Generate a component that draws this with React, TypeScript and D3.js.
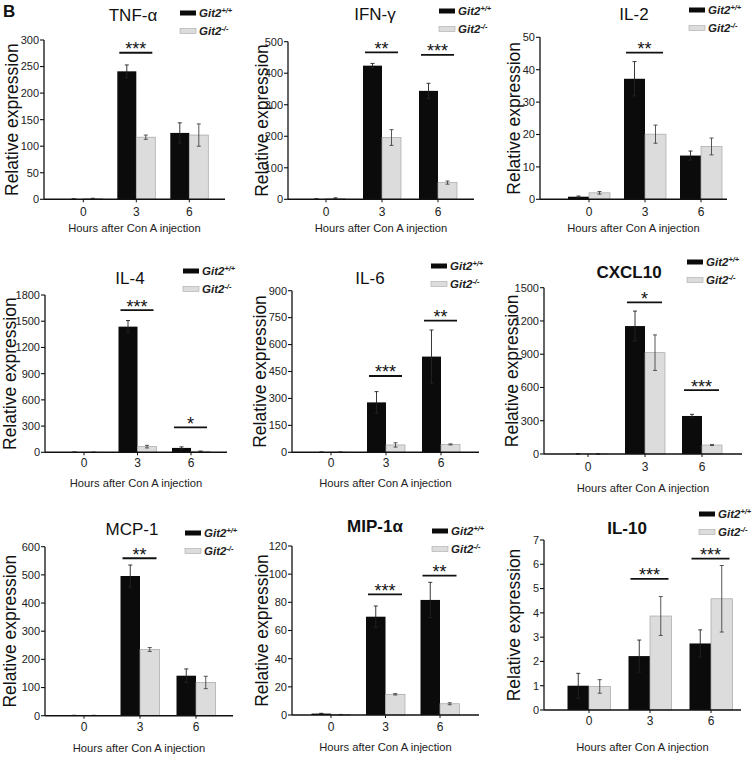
import React from "react";
import * as d3 from "d3";

const categories = ["0", "3", "6"];
const groups = ["wt", "ko"];

// TNF-α
const tnfWT = [0.5, 241, 125];
const tnfWTErr = [0.3, 12, 19];
const tnfKO = [1.5, 117, 121];
const tnfKOErr = [0.5, 4, 21];
const tnfTicks = [0, 50, 100, 150, 200, 250, 300];
const tnfSig = [{ cat: "3", label: "***", y: 276 }];

// IFN-γ
const ifnWT = [1, 424, 344];
const ifnWTErr = [0.5, 7, 24];
const ifnKO = [3, 196, 53];
const ifnKOErr = [2, 25, 5];
const ifnTicks = [0, 100, 200, 300, 400, 500];
const ifnSig = [
  { cat: "3", label: "**", y: 466 },
  { cat: "6", label: "***", y: 458 },
];

// IL-2
const il2WT = [0.8, 37.2, 13.5];
const il2WTErr = [0.2, 5.3, 1.4];
const il2KO = [2.0, 20.1, 16.3];
const il2KOErr = [0.4, 2.8, 2.6];
const il2Ticks = [0, 10, 20, 30, 40, 50];
const il2Sig = [{ cat: "3", label: "**", y: 45.3 }];

// IL-4
const il4WT = [2, 1438, 50];
const il4WTErr = [1, 70, 12];
const il4KO = [1, 65, 12];
const il4KOErr = [0.5, 15, 3];
const il4Ticks = [0, 300, 600, 900, 1200, 1500, 1800];
const il4Sig = [
  { cat: "3", label: "***", y: 1628 },
  { cat: "6", label: "*", y: 286 },
];

// IL-6
const il6WT = [1, 278, 533];
const il6WTErr = [0.5, 60, 148];
const il6KO = [1, 41, 44];
const il6KOErr = [0.5, 12, 3];
const il6Ticks = [0, 150, 300, 450, 600, 750, 900];
const il6Sig = [
  { cat: "3", label: "***", y: 425 },
  { cat: "6", label: "**", y: 733 },
];

// CXCL10
const cxclWT = [1, 1154, 343];
const cxclWTErr = [0.5, 135, 15];
const cxclKO = [1, 914, 81];
const cxclKOErr = [0.5, 160, 5];
const cxclTicks = [0, 300, 600, 900, 1200, 1500];
const cxclSig = [
  { cat: "3", label: "*", y: 1368 },
  { cat: "6", label: "***", y: 577 },
];

// MCP-1
const mcpWT = [1, 496, 142];
const mcpWTErr = [0.5, 39, 24];
const mcpKO = [1, 235, 118];
const mcpKOErr = [0.5, 7, 22];
const mcpTicks = [0, 100, 200, 300, 400, 500, 600];
const mcpSig = [{ cat: "3", label: "**", y: 559 }];

// MIP-1α
const mipWT = [1, 69.8, 81.7];
const mipWTErr = [0.2, 7.6, 12.5];
const mipKO = [0.3, 14.7, 8];
const mipKOErr = [0.1, 0.5, 0.7];
const mipTicks = [0, 20, 40, 60, 80, 100, 120];
const mipSig = [
  { cat: "3", label: "***", y: 85.7 },
  { cat: "6", label: "**", y: 98.9 },
];

// IL-10
const il10WT = [1.0, 2.22, 2.74];
const il10WTErr = [0.51, 0.66, 0.56];
const il10KO = [0.97, 3.87, 4.58];
const il10KOErr = [0.28, 0.8, 1.37];
const il10Ticks = [0, 1, 2, 3, 4, 5, 6, 7];
const il10Sig = [
  { cat: "3", label: "***", y: 5.4 },
  { cat: "6", label: "***", y: 6.23 },
];

const panelData = [
  { title: "TNF-α", bold: false, wt: tnfWT, wtErr: tnfWTErr, ko: tnfKO, koErr: tnfKOErr, ticks: tnfTicks, sig: tnfSig },
  { title: "IFN-γ", bold: false, wt: ifnWT, wtErr: ifnWTErr, ko: ifnKO, koErr: ifnKOErr, ticks: ifnTicks, sig: ifnSig },
  { title: "IL-2", bold: false, wt: il2WT, wtErr: il2WTErr, ko: il2KO, koErr: il2KOErr, ticks: il2Ticks, sig: il2Sig },
  { title: "IL-4", bold: false, wt: il4WT, wtErr: il4WTErr, ko: il4KO, koErr: il4KOErr, ticks: il4Ticks, sig: il4Sig },
  { title: "IL-6", bold: false, wt: il6WT, wtErr: il6WTErr, ko: il6KO, koErr: il6KOErr, ticks: il6Ticks, sig: il6Sig },
  { title: "CXCL10", bold: true, wt: cxclWT, wtErr: cxclWTErr, ko: cxclKO, koErr: cxclKOErr, ticks: cxclTicks, sig: cxclSig },
  { title: "MCP-1", bold: false, wt: mcpWT, wtErr: mcpWTErr, ko: mcpKO, koErr: mcpKOErr, ticks: mcpTicks, sig: mcpSig },
  { title: "MIP-1α", bold: true, wt: mipWT, wtErr: mipWTErr, ko: mipKO, koErr: mipKOErr, ticks: mipTicks, sig: mipSig },
  { title: "IL-10", bold: true, wt: il10WT, wtErr: il10WTErr, ko: il10KO, koErr: il10KOErr, ticks: il10Ticks, sig: il10Sig },
];

// layout (pixels)
const layouts = [
  { ax: 44, y0: 199.3, yTop: 40, xEnd: 225, c0: 83.3, step: 53, bw: 19, titleX: 133, titleY: 21, legX: 180, legY1: 13, legY2: 31, ylabX: 12, tickY: 216, xTitleY: 232 },
  { ax: 288, y0: 199.3, yTop: 41.7, xEnd: 474, c0: 326, step: 56, bw: 19, titleX: 375, titleY: 20, legX: 439, legY1: 11, legY2: 29, ylabX: 262, tickY: 216, xTitleY: 232 },
  { ax: 540, y0: 199.3, yTop: 37.3, xEnd: 727, c0: 589, step: 56, bw: 21, titleX: 634, titleY: 20, legX: 689, legY1: 10, legY2: 28, ylabX: 514, tickY: 216, xTitleY: 232 },
  { ax: 45, y0: 452.3, yTop: 295, xEnd: 227, c0: 84, step: 53.5, bw: 19, titleX: 130, titleY: 284, legX: 183, legY1: 271, legY2: 289, ylabX: 10, tickY: 467, xTitleY: 487 },
  { ax: 292, y0: 452.3, yTop: 290.7, xEnd: 479, c0: 331, step: 55, bw: 19, titleX: 370, titleY: 284, legX: 431, legY1: 266, legY2: 284, ylabX: 260, tickY: 467, xTitleY: 487 },
  { ax: 544, y0: 454, yTop: 287.7, xEnd: 742, c0: 588, step: 57, bw: 20, titleX: 629, titleY: 278, legX: 687, legY1: 262, legY2: 280, ylabX: 512, tickY: 471, xTitleY: 492 },
  { ax: 45, y0: 715.7, yTop: 546.7, xEnd: 233, c0: 84, step: 56, bw: 19.5, titleX: 132, titleY: 535, legX: 185, legY1: 533, legY2: 551, ylabX: 10, tickY: 731, xTitleY: 752 },
  { ax: 292, y0: 715, yTop: 546, xEnd: 479, c0: 331, step: 54.5, bw: 19.5, titleX: 375, titleY: 532, legX: 432, legY1: 531, legY2: 549, ylabX: 262, tickY: 731, xTitleY: 751 },
  { ax: 544, y0: 710, yTop: 540, xEnd: 741, c0: 589, step: 61, bw: 21.5, titleX: 627, titleY: 534, legX: 699, legY1: 514, legY2: 532, ylabX: 514, tickY: 725, xTitleY: 751 },
];

const FONT = "Arial, 'Liberation Sans', sans-serif";
const BLACK = "#0b0b0b";
const GRAY = "#dcdcdc";

function Panel({ d, L }: { d: any; L: any }) {
  const maxV = d.ticks[d.ticks.length - 1];
  const y = d3.scaleLinear().domain([0, maxV]).range([L.y0, L.yTop]);
  const p = 1 - (2 * L.bw) / L.step;
  const x0 = d3
    .scaleBand()
    .domain(categories)
    .range([L.c0 - L.step / 2, L.c0 + 2.5 * L.step])
    .paddingInner(p)
    .paddingOuter(p / 2);
  const x1 = d3.scaleBand().domain(groups).range([0, x0.bandwidth()]);

  const bars: any[] = [];
  categories.forEach((c, i) => {
    groups.forEach((g) => {
      const v = g === "wt" ? d.wt[i] : d.ko[i];
      const e = g === "wt" ? d.wtErr[i] : d.koErr[i];
      bars.push({ c, g, v, e, x: (x0(c) as number) + (x1(g) as number), w: x1.bandwidth() });
    });
  });

  return (
    <g fontFamily={FONT}>
      <text x={L.titleX} y={L.titleY} textAnchor="middle" fontSize={17} fontWeight={d.bold ? "bold" : "normal"} fill="#111">
        {d.title}
      </text>
      <rect x={L.legX} y={L.legY1 - 2.5} width={16} height={5} fill={BLACK} />
      <text x={L.legX + 19} y={L.legY1 + 4} fontSize={11.5} fontWeight="bold" fontStyle="italic" fill="#222">
        Git2<tspan fontSize={7.5} dy={-4}>+/+</tspan>
      </text>
      <rect x={L.legX} y={L.legY2 - 2.5} width={16} height={5} fill={GRAY} stroke="#a8a8a8" strokeWidth={0.6} />
      <text x={L.legX + 19} y={L.legY2 + 4} fontSize={11.5} fontWeight="bold" fontStyle="italic" fill="#222">
        Git2<tspan fontSize={7.5} dy={-4}>-/-</tspan>
      </text>
      <text
        transform={`translate(${L.ylabX},${(L.y0 + L.yTop) / 2}) rotate(-90)`}
        textAnchor="middle"
        dy="0.35em"
        fontSize={17.5}
        fill="#111"
      >
        Relative expression
      </text>
      {bars.map((b, i) => (
        <rect
          key={"b" + i}
          x={b.x}
          y={y(b.v)}
          width={b.w}
          height={Math.max(0, L.y0 - y(b.v))}
          fill={b.g === "wt" ? BLACK : GRAY}
          stroke={b.g === "wt" ? "none" : "#a5a5a5"}
          strokeWidth={0.7}
        />
      ))}
      {bars.map((b, i) => {
        const cx = b.x + b.w / 2;
        const top = y(b.v + b.e);
        const bot = y(Math.max(0, b.v - b.e));
        const col = b.g === "wt" ? "#222" : "#444";
        return (
          <g key={"e" + i} stroke={col} strokeWidth={0.9}>
            <line x1={cx} x2={cx} y1={top} y2={bot} />
            <line x1={cx - 2} x2={cx + 2} y1={top} y2={top} />
            <line x1={cx - 2} x2={cx + 2} y1={bot} y2={bot} />
          </g>
        );
      })}
      {d.sig.map((s: any, i: number) => {
        const gx = x0(s.cat) as number;
        const xa = gx + 2;
        const xb = gx + x0.bandwidth() - 3;
        return (
          <g key={"s" + i}>
            <line x1={xa} x2={xb} y1={y(s.y)} y2={y(s.y)} stroke="#111" strokeWidth={1.8} />
            <text x={(xa + xb) / 2} y={y(s.y) + 2.5} textAnchor="middle" fontSize={18} fill="#111">
              {s.label}
            </text>
          </g>
        );
      })}
      <line x1={L.ax} x2={L.ax} y1={L.yTop} y2={L.y0} stroke="#111" strokeWidth={1.3} />
      {d.ticks.map((t: number) => (
        <g key={"t" + t}>
          <line x1={L.ax - 4} x2={L.ax} y1={y(t)} y2={y(t)} stroke="#111" strokeWidth={1.1} />
          <text x={L.ax - 5} y={y(t)} dy="0.35em" textAnchor="end" fontSize={11} fill="#222">
            {t}
          </text>
        </g>
      ))}
      <line x1={L.ax} x2={L.xEnd} y1={L.y0} y2={L.y0} stroke="#111" strokeWidth={1.6} />
      {categories.map((c) => {
        const cx = (x0(c) as number) + x0.bandwidth() / 2;
        return (
          <g key={"x" + c}>
            <line x1={cx} x2={cx} y1={L.y0} y2={L.y0 + 3} stroke="#111" strokeWidth={1} />
            <text x={cx} y={L.tickY} textAnchor="middle" fontSize={12} fill="#222">
              {c}
            </text>
          </g>
        );
      })}
      <text x={(L.ax + L.xEnd) / 2} y={L.xTitleY} textAnchor="middle" fontSize={11.2} fill="#222">
        Hours after Con A injection
      </text>
    </g>
  );
}

export default function App() {
  return (
    <div style={{ margin: 0 }}>
      <style>{`body{margin:0}`}</style>
      <svg width={756} height={760} style={{ display: "block", background: "#fff" }}>
        <text x={3} y={17} fontFamily={FONT} fontWeight="bold" fontSize={17} fill="#111">
          B
        </text>
        {panelData.map((d, i) => (
          <Panel key={i} d={d} L={layouts[i]} />
        ))}
      </svg>
    </div>
  );
}
